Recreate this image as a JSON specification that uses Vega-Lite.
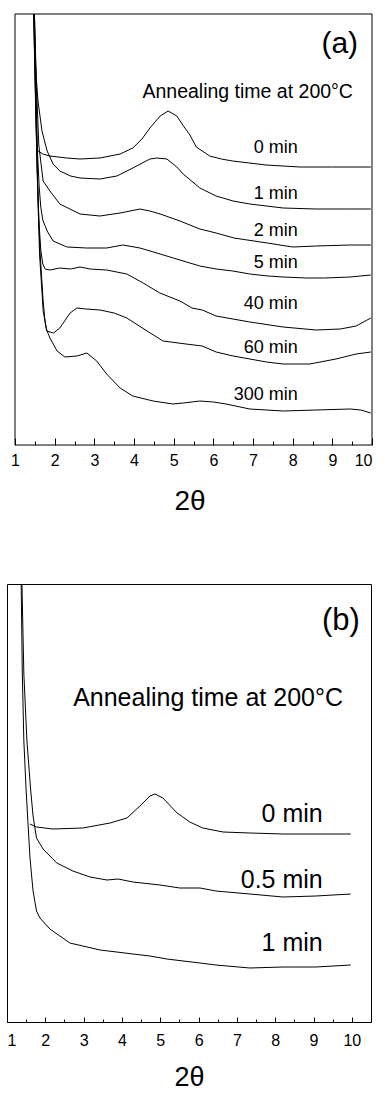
{
  "$schema": "https://vega.github.io/schema/vega-lite/v6.json",
  "padding": {"left": 0, "top": 13, "right": 0, "bottom": 0},
  "spacing": 68,
  "config": {
    "view": {"stroke": "black", "strokeWidth": 1},
    "font": "Liberation Sans",
    "axis": {"grid": false, "domainColor": "black", "tickColor": "black", "labelColor": "black", "titleColor": "black", "labelFont": "Liberation Sans", "titleFont": "Liberation Sans", "titleFontWeight": "normal"},
    "text": {"font": "Liberation Sans", "color": "black"}
  },
  "datasets": {
    "a": [
      {"s": "0 min", "t": 1.58, "I": 294}, {"s": "0 min", "t": 1.70, "I": 291}, {"s": "0 min", "t": 1.88, "I": 289}, {"s": "0 min", "t": 2.30, "I": 287}, {"s": "0 min", "t": 2.64, "I": 286}, {"s": "0 min", "t": 3.14, "I": 287}, {"s": "0 min", "t": 3.65, "I": 291}, {"s": "0 min", "t": 3.97, "I": 297}, {"s": "0 min", "t": 4.20, "I": 306}, {"s": "0 min", "t": 4.40, "I": 317}, {"s": "0 min", "t": 4.66, "I": 329}, {"s": "0 min", "t": 4.86, "I": 334}, {"s": "0 min", "t": 5.08, "I": 329}, {"s": "0 min", "t": 5.23, "I": 320}, {"s": "0 min", "t": 5.41, "I": 310}, {"s": "0 min", "t": 5.57, "I": 298}, {"s": "0 min", "t": 5.91, "I": 289}, {"s": "0 min", "t": 6.20, "I": 286}, {"s": "0 min", "t": 6.49, "I": 284}, {"s": "0 min", "t": 7.33, "I": 280}, {"s": "0 min", "t": 8.18, "I": 278}, {"s": "0 min", "t": 9.00, "I": 278}, {"s": "0 min", "t": 9.97, "I": 278},
      {"s": "1 min", "t": 1.42, "I": 560}, {"s": "1 min", "t": 1.48, "I": 431}, {"s": "1 min", "t": 1.53, "I": 370}, {"s": "1 min", "t": 1.58, "I": 344}, {"s": "1 min", "t": 1.68, "I": 314}, {"s": "1 min", "t": 1.81, "I": 294}, {"s": "1 min", "t": 1.96, "I": 281}, {"s": "1 min", "t": 2.13, "I": 274}, {"s": "1 min", "t": 2.40, "I": 269}, {"s": "1 min", "t": 2.64, "I": 267}, {"s": "1 min", "t": 3.14, "I": 266}, {"s": "1 min", "t": 3.57, "I": 269}, {"s": "1 min", "t": 3.97, "I": 277}, {"s": "1 min", "t": 4.40, "I": 286}, {"s": "1 min", "t": 4.58, "I": 287}, {"s": "1 min", "t": 4.83, "I": 286}, {"s": "1 min", "t": 5.08, "I": 278}, {"s": "1 min", "t": 5.24, "I": 271}, {"s": "1 min", "t": 5.66, "I": 257}, {"s": "1 min", "t": 6.07, "I": 249}, {"s": "1 min", "t": 6.50, "I": 244}, {"s": "1 min", "t": 6.92, "I": 241}, {"s": "1 min", "t": 7.76, "I": 237}, {"s": "1 min", "t": 8.59, "I": 236}, {"s": "1 min", "t": 9.45, "I": 236}, {"s": "1 min", "t": 9.97, "I": 236},
      {"s": "2 min", "t": 1.42, "I": 560}, {"s": "2 min", "t": 1.49, "I": 431}, {"s": "2 min", "t": 1.54, "I": 360}, {"s": "2 min", "t": 1.60, "I": 300}, {"s": "2 min", "t": 1.66, "I": 280}, {"s": "2 min", "t": 1.71, "I": 264}, {"s": "2 min", "t": 1.88, "I": 254}, {"s": "2 min", "t": 2.13, "I": 241}, {"s": "2 min", "t": 2.64, "I": 231}, {"s": "2 min", "t": 3.14, "I": 229}, {"s": "2 min", "t": 3.65, "I": 232}, {"s": "2 min", "t": 4.15, "I": 236}, {"s": "2 min", "t": 4.40, "I": 234}, {"s": "2 min", "t": 4.66, "I": 231}, {"s": "2 min", "t": 5.16, "I": 224}, {"s": "2 min", "t": 5.66, "I": 216}, {"s": "2 min", "t": 6.07, "I": 212}, {"s": "2 min", "t": 6.52, "I": 207}, {"s": "2 min", "t": 7.36, "I": 202}, {"s": "2 min", "t": 8.00, "I": 198}, {"s": "2 min", "t": 8.60, "I": 199}, {"s": "2 min", "t": 9.45, "I": 200}, {"s": "2 min", "t": 9.97, "I": 200},
      {"s": "5 min", "t": 1.43, "I": 560}, {"s": "5 min", "t": 1.49, "I": 431}, {"s": "5 min", "t": 1.54, "I": 340}, {"s": "5 min", "t": 1.57, "I": 290}, {"s": "5 min", "t": 1.61, "I": 258}, {"s": "5 min", "t": 1.65, "I": 238}, {"s": "5 min", "t": 1.70, "I": 225}, {"s": "5 min", "t": 1.81, "I": 214}, {"s": "5 min", "t": 1.96, "I": 204}, {"s": "5 min", "t": 2.31, "I": 198}, {"s": "5 min", "t": 2.81, "I": 197}, {"s": "5 min", "t": 3.31, "I": 197}, {"s": "5 min", "t": 3.72, "I": 200}, {"s": "5 min", "t": 4.15, "I": 197}, {"s": "5 min", "t": 4.66, "I": 191}, {"s": "5 min", "t": 4.99, "I": 187}, {"s": "5 min", "t": 5.66, "I": 179}, {"s": "5 min", "t": 6.07, "I": 176}, {"s": "5 min", "t": 6.49, "I": 174}, {"s": "5 min", "t": 6.92, "I": 171}, {"s": "5 min", "t": 7.38, "I": 169}, {"s": "5 min", "t": 7.76, "I": 168}, {"s": "5 min", "t": 8.35, "I": 167}, {"s": "5 min", "t": 8.80, "I": 167}, {"s": "5 min", "t": 9.45, "I": 168}, {"s": "5 min", "t": 9.97, "I": 170},
      {"s": "40 min", "t": 1.43, "I": 560}, {"s": "40 min", "t": 1.48, "I": 431}, {"s": "40 min", "t": 1.52, "I": 350}, {"s": "40 min", "t": 1.56, "I": 280}, {"s": "40 min", "t": 1.60, "I": 225}, {"s": "40 min", "t": 1.65, "I": 195}, {"s": "40 min", "t": 1.70, "I": 181}, {"s": "40 min", "t": 1.76, "I": 176}, {"s": "40 min", "t": 1.88, "I": 175}, {"s": "40 min", "t": 2.13, "I": 177}, {"s": "40 min", "t": 2.40, "I": 176}, {"s": "40 min", "t": 2.64, "I": 178}, {"s": "40 min", "t": 2.89, "I": 176}, {"s": "40 min", "t": 3.31, "I": 175}, {"s": "40 min", "t": 3.82, "I": 171}, {"s": "40 min", "t": 4.23, "I": 162}, {"s": "40 min", "t": 4.65, "I": 152}, {"s": "40 min", "t": 5.16, "I": 144}, {"s": "40 min", "t": 5.46, "I": 137}, {"s": "40 min", "t": 5.72, "I": 135}, {"s": "40 min", "t": 6.07, "I": 129}, {"s": "40 min", "t": 6.92, "I": 123}, {"s": "40 min", "t": 7.76, "I": 118}, {"s": "40 min", "t": 8.59, "I": 115}, {"s": "40 min", "t": 9.20, "I": 116}, {"s": "40 min", "t": 9.60, "I": 119}, {"s": "40 min", "t": 9.97, "I": 127},
      {"s": "60 min", "t": 1.43, "I": 560}, {"s": "60 min", "t": 1.47, "I": 431}, {"s": "60 min", "t": 1.52, "I": 340}, {"s": "60 min", "t": 1.57, "I": 260}, {"s": "60 min", "t": 1.63, "I": 194}, {"s": "60 min", "t": 1.71, "I": 144}, {"s": "60 min", "t": 1.76, "I": 122}, {"s": "60 min", "t": 1.80, "I": 114}, {"s": "60 min", "t": 1.97, "I": 112}, {"s": "60 min", "t": 2.13, "I": 117}, {"s": "60 min", "t": 2.39, "I": 132}, {"s": "60 min", "t": 2.56, "I": 137}, {"s": "60 min", "t": 2.80, "I": 136}, {"s": "60 min", "t": 3.14, "I": 135}, {"s": "60 min", "t": 3.50, "I": 132}, {"s": "60 min", "t": 3.82, "I": 127}, {"s": "60 min", "t": 4.33, "I": 114}, {"s": "60 min", "t": 4.73, "I": 104}, {"s": "60 min", "t": 5.31, "I": 101}, {"s": "60 min", "t": 5.72, "I": 99}, {"s": "60 min", "t": 6.07, "I": 93}, {"s": "60 min", "t": 6.50, "I": 89}, {"s": "60 min", "t": 6.92, "I": 86}, {"s": "60 min", "t": 7.34, "I": 83}, {"s": "60 min", "t": 7.76, "I": 81}, {"s": "60 min", "t": 8.43, "I": 81}, {"s": "60 min", "t": 9.09, "I": 86}, {"s": "60 min", "t": 9.60, "I": 91}, {"s": "60 min", "t": 9.97, "I": 93},
      {"s": "300 min", "t": 1.43, "I": 560}, {"s": "300 min", "t": 1.47, "I": 431}, {"s": "300 min", "t": 1.52, "I": 340}, {"s": "300 min", "t": 1.57, "I": 255}, {"s": "300 min", "t": 1.62, "I": 190}, {"s": "300 min", "t": 1.71, "I": 134}, {"s": "300 min", "t": 1.80, "I": 115}, {"s": "300 min", "t": 1.88, "I": 107}, {"s": "300 min", "t": 2.06, "I": 94}, {"s": "300 min", "t": 2.26, "I": 88}, {"s": "300 min", "t": 2.56, "I": 89}, {"s": "300 min", "t": 2.81, "I": 92}, {"s": "300 min", "t": 3.06, "I": 84}, {"s": "300 min", "t": 3.31, "I": 71}, {"s": "300 min", "t": 3.65, "I": 57}, {"s": "300 min", "t": 3.97, "I": 49}, {"s": "300 min", "t": 4.48, "I": 44}, {"s": "300 min", "t": 4.98, "I": 41}, {"s": "300 min", "t": 5.24, "I": 42}, {"s": "300 min", "t": 5.66, "I": 44}, {"s": "300 min", "t": 6.00, "I": 43}, {"s": "300 min", "t": 6.32, "I": 41}, {"s": "300 min", "t": 6.92, "I": 36}, {"s": "300 min", "t": 7.76, "I": 34}, {"s": "300 min", "t": 8.59, "I": 35}, {"s": "300 min", "t": 9.45, "I": 36}, {"s": "300 min", "t": 9.72, "I": 35}, {"s": "300 min", "t": 9.97, "I": 32}
    ],
    "b": [
      {"s": "0 min", "t": 1.60, "I": 198}, {"s": "0 min", "t": 1.77, "I": 195}, {"s": "0 min", "t": 2.20, "I": 193}, {"s": "0 min", "t": 2.98, "I": 194}, {"s": "0 min", "t": 3.69, "I": 199}, {"s": "0 min", "t": 4.13, "I": 204}, {"s": "0 min", "t": 4.47, "I": 216}, {"s": "0 min", "t": 4.73, "I": 226}, {"s": "0 min", "t": 4.86, "I": 228}, {"s": "0 min", "t": 5.07, "I": 224}, {"s": "0 min", "t": 5.44, "I": 209}, {"s": "0 min", "t": 5.59, "I": 205}, {"s": "0 min", "t": 5.77, "I": 200}, {"s": "0 min", "t": 6.11, "I": 194}, {"s": "0 min", "t": 6.64, "I": 190}, {"s": "0 min", "t": 7.34, "I": 189}, {"s": "0 min", "t": 8.20, "I": 188}, {"s": "0 min", "t": 9.06, "I": 188}, {"s": "0 min", "t": 9.97, "I": 188},
      {"s": "0.5 min", "t": 1.36, "I": 520}, {"s": "0.5 min", "t": 1.39, "I": 438}, {"s": "0.5 min", "t": 1.44, "I": 348}, {"s": "0.5 min", "t": 1.52, "I": 281}, {"s": "0.5 min", "t": 1.62, "I": 231}, {"s": "0.5 min", "t": 1.68, "I": 206}, {"s": "0.5 min", "t": 1.77, "I": 184}, {"s": "0.5 min", "t": 1.94, "I": 173}, {"s": "0.5 min", "t": 2.30, "I": 159}, {"s": "0.5 min", "t": 2.72, "I": 151}, {"s": "0.5 min", "t": 3.17, "I": 145}, {"s": "0.5 min", "t": 3.61, "I": 142}, {"s": "0.5 min", "t": 3.90, "I": 143}, {"s": "0.5 min", "t": 4.29, "I": 140}, {"s": "0.5 min", "t": 4.99, "I": 137}, {"s": "0.5 min", "t": 5.51, "I": 134}, {"s": "0.5 min", "t": 6.04, "I": 134}, {"s": "0.5 min", "t": 6.45, "I": 131}, {"s": "0.5 min", "t": 7.34, "I": 128}, {"s": "0.5 min", "t": 8.20, "I": 125}, {"s": "0.5 min", "t": 9.06, "I": 126}, {"s": "0.5 min", "t": 9.97, "I": 128},
      {"s": "1 min", "t": 1.34, "I": 520}, {"s": "1 min", "t": 1.37, "I": 438}, {"s": "1 min", "t": 1.40, "I": 348}, {"s": "1 min", "t": 1.44, "I": 281}, {"s": "1 min", "t": 1.50, "I": 231}, {"s": "1 min", "t": 1.60, "I": 164}, {"s": "1 min", "t": 1.68, "I": 131}, {"s": "1 min", "t": 1.77, "I": 111}, {"s": "1 min", "t": 1.86, "I": 104}, {"s": "1 min", "t": 2.12, "I": 93}, {"s": "1 min", "t": 2.38, "I": 86}, {"s": "1 min", "t": 2.64, "I": 79}, {"s": "1 min", "t": 2.98, "I": 76}, {"s": "1 min", "t": 3.43, "I": 72}, {"s": "1 min", "t": 4.29, "I": 68}, {"s": "1 min", "t": 4.73, "I": 66}, {"s": "1 min", "t": 5.17, "I": 63}, {"s": "1 min", "t": 6.04, "I": 59}, {"s": "1 min", "t": 6.45, "I": 57}, {"s": "1 min", "t": 7.34, "I": 54}, {"s": "1 min", "t": 8.20, "I": 55}, {"s": "1 min", "t": 9.06, "I": 55}, {"s": "1 min", "t": 9.97, "I": 57}
    ],
    "la": [
      {"k": "panel", "t": 9.65, "I": 401, "txt": "(a)"},
      {"k": "ann", "t": 9.52, "I": 353, "txt": "Annealing time at 200°C"},
      {"k": "time", "t": 8.13, "I": 297, "txt": "0 min"},
      {"k": "time", "t": 8.13, "I": 251, "txt": "1 min"},
      {"k": "time", "t": 8.13, "I": 214, "txt": "2 min"},
      {"k": "time", "t": 8.13, "I": 182, "txt": "5 min"},
      {"k": "time", "t": 8.13, "I": 141, "txt": "40 min"},
      {"k": "time", "t": 8.13, "I": 97, "txt": "60 min"},
      {"k": "time", "t": 8.13, "I": 50, "txt": "300 min"}
    ],
    "lb": [
      {"k": "panel", "t": 10.21, "I": 401, "txt": "(b)"},
      {"k": "ann", "t": 9.77, "I": 324, "txt": "Annealing time at 200°C"},
      {"k": "time", "t": 9.24, "I": 208, "txt": "0 min"},
      {"k": "time", "t": 9.24, "I": 142, "txt": "0.5 min"},
      {"k": "time", "t": 9.24, "I": 79, "txt": "1 min"}
    ],
    "one": [{}]
  },
  "vconcat": [
    {
      "width": 365,
      "height": 431,
      "view": {"stroke": null},
      "resolve": {"axis": {"x": "independent"}},
      "layer": [
        {
          "data": {"name": "a"},
          "mark": {"type": "line", "color": "black", "strokeWidth": 1, "clip": true},
          "encoding": {
            "x": {"field": "t", "type": "quantitative", "scale": {"domain": [0.7983, 10], "nice": false, "zero": false},
              "axis": {"values": [1, 2, 3, 4, 5, 6, 7, 8, 9, 10], "tickSize": -7, "labelPadding": 14, "labelFontSize": 16, "title": "2θ", "titleFontSize": 28, "titlePadding": 19, "domain": false}},
            "y": {"field": "I", "type": "quantitative", "scale": {"domain": [0, 431], "nice": false, "zero": false}, "axis": null},
            "detail": {"field": "s"}
          }
        },
        {
          "data": {"name": "la"},
          "transform": [{"filter": "datum.k === 'time'"}],
          "mark": {"type": "text", "align": "right", "baseline": "middle", "fontSize": 18},
          "encoding": {
            "x": {"field": "t", "type": "quantitative", "scale": {"domain": [0.7983, 10], "nice": false, "zero": false},
              "axis": {"orient": "bottom", "values": [1.5, 2.5, 3.5, 4.5, 5.5, 6.5, 7.5, 8.5, 9.5], "tickSize": -4, "labels": false, "domain": false, "title": null}},
            "y": {"field": "I", "type": "quantitative", "axis": null},
            "text": {"field": "txt"}
          }
        },
        {
          "data": {"name": "la"},
          "transform": [{"filter": "datum.k === 'ann'"}],
          "mark": {"type": "text", "align": "right", "baseline": "middle", "fontSize": 19.5},
          "encoding": {
            "x": {"field": "t", "type": "quantitative", "axis": null},
            "y": {"field": "I", "type": "quantitative", "axis": null},
            "text": {"field": "txt"}
          }
        },
        {
          "data": {"name": "la"},
          "transform": [{"filter": "datum.k === 'panel'"}],
          "mark": {"type": "text", "align": "right", "baseline": "middle", "fontSize": 30},
          "encoding": {
            "x": {"field": "t", "type": "quantitative", "axis": null},
            "y": {"field": "I", "type": "quantitative", "axis": null},
            "text": {"field": "txt"}
          }
        },
        {
          "data": {"name": "one"},
          "mark": {"type": "rule", "color": "black", "strokeWidth": 1},
          "encoding": {
            "x": {"datum": 1, "type": "quantitative", "axis": null},
            "x2": {"datum": 10},
            "y": {"datum": 0, "type": "quantitative", "axis": null}
          }
        },
        {
          "data": {"name": "one"},
          "mark": {"type": "rule", "color": "black", "strokeWidth": 1},
          "encoding": {
            "x": {"datum": 1, "type": "quantitative", "axis": null},
            "x2": {"datum": 10},
            "y": {"datum": 431, "type": "quantitative", "axis": null}
          }
        },
        {
          "data": {"name": "one"},
          "mark": {"type": "rule", "color": "black", "strokeWidth": 1},
          "encoding": {
            "x": {"datum": 1, "type": "quantitative", "axis": null},
            "y": {"datum": 0, "type": "quantitative", "axis": null},
            "y2": {"datum": 431}
          }
        },
        {
          "data": {"name": "one"},
          "mark": {"type": "rule", "color": "black", "strokeWidth": 1},
          "encoding": {
            "x": {"datum": 10, "type": "quantitative", "axis": null},
            "y": {"datum": 0, "type": "quantitative", "axis": null},
            "y2": {"datum": 431}
          }
        }
      ]
    },
    {
      "width": 364,
      "height": 438,
      "resolve": {"axis": {"x": "independent"}},
      "layer": [
        {
          "data": {"name": "b"},
          "mark": {"type": "line", "color": "black", "strokeWidth": 1, "clip": true},
          "encoding": {
            "x": {"field": "t", "type": "quantitative", "scale": {"domain": [1, 10.5], "nice": false, "zero": false},
              "axis": {"values": [1, 2, 3, 4, 5, 6, 7, 8, 9, 10], "tickSize": -5, "labelPadding": 15, "labelFontSize": 16, "title": "2θ", "titleFontSize": 27, "titlePadding": 16, "domain": true}},
            "y": {"field": "I", "type": "quantitative", "scale": {"domain": [0, 438], "nice": false, "zero": false},
              "axis": {"labels": false, "ticks": true, "tickSize": 6.5, "tickOpacity": 0, "values": [219], "domain": false, "title": null}},
            "detail": {"field": "s"}
          }
        },
        {
          "data": {"name": "lb"},
          "transform": [{"filter": "datum.k === 'time'"}],
          "mark": {"type": "text", "align": "right", "baseline": "middle", "fontSize": 25},
          "encoding": {
            "x": {"field": "t", "type": "quantitative", "scale": {"domain": [1, 10.5], "nice": false, "zero": false},
              "axis": {"orient": "bottom", "values": [1.5, 2.5, 3.5, 4.5, 5.5, 6.5, 7.5, 8.5, 9.5], "tickSize": -3, "labels": false, "domain": false, "title": null}},
            "y": {"field": "I", "type": "quantitative", "axis": {"labels": false, "ticks": true, "tickSize": 6.5, "tickOpacity": 0, "values": [219], "domain": false, "title": null}},
            "text": {"field": "txt"}
          }
        },
        {
          "data": {"name": "lb"},
          "transform": [{"filter": "datum.k === 'ann'"}],
          "mark": {"type": "text", "align": "right", "baseline": "middle", "fontSize": 25},
          "encoding": {
            "x": {"field": "t", "type": "quantitative", "axis": null},
            "y": {"field": "I", "type": "quantitative", "axis": {"labels": false, "ticks": true, "tickSize": 6.5, "tickOpacity": 0, "values": [219], "domain": false, "title": null}},
            "text": {"field": "txt"}
          }
        },
        {
          "data": {"name": "lb"},
          "transform": [{"filter": "datum.k === 'panel'"}],
          "mark": {"type": "text", "align": "right", "baseline": "middle", "fontSize": 31},
          "encoding": {
            "x": {"field": "t", "type": "quantitative", "axis": null},
            "y": {"field": "I", "type": "quantitative", "axis": {"labels": false, "ticks": true, "tickSize": 6.5, "tickOpacity": 0, "values": [219], "domain": false, "title": null}},
            "text": {"field": "txt"}
          }
        }
      ]
    }
  ]
}
